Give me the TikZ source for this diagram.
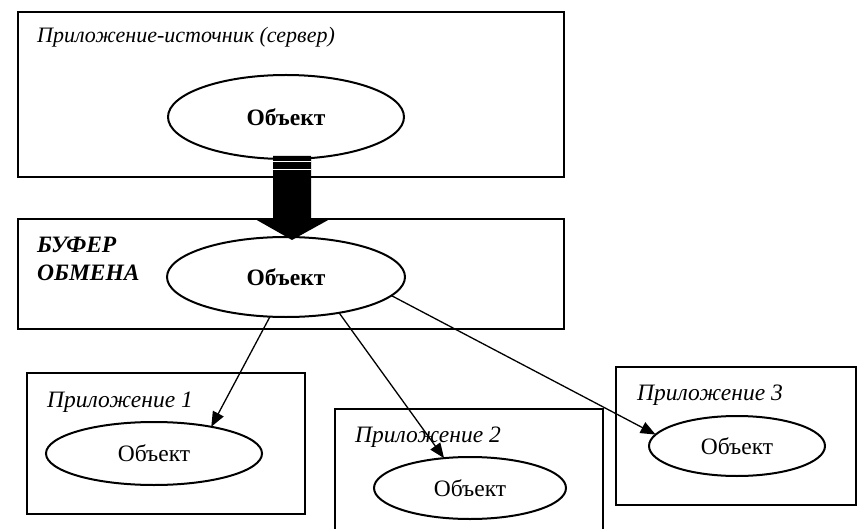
\documentclass[tikz,border=0pt]{standalone}
\usepackage{fontspec}
\setmainfont{Liberation Serif}
\usetikzlibrary{shapes.geometric}
\usetikzlibrary{arrows.meta}

\tikzset{
  objell/.style={draw, ellipse, line width=2pt, inner sep=0pt, outer sep=0pt},
  lbl/.style={anchor=base west, inner sep=0pt},
  sendarr/.style={line width=1.3pt, -{Triangle[length=15pt,width=12pt]}},
}

\begin{document}
\begin{tikzpicture}[x=1pt, y=-1pt, font=\fontsize{23.5}{28}\selectfont]
\useasboundingbox (0,0) rectangle (861,529);

% source application
\draw[line width=2pt] (18,12) rectangle (564,177);
\node[lbl, font=\fontsize{22}{28}\selectfont] (srclbl) at (37,43) {\itshape Приложение-источник (сервер)};
\node[objell, minimum width=236pt, minimum height=84pt] (srcobj) at (286,117) {\bfseries Объект};

% big arrow
\fill (273,156)--(311,156)--(311,219)--(330,219)--(292,240)--(255,219)--(273,219)--cycle;
\draw[white, line width=0.8pt] (273,161)--(311,161) (273,169)--(311,169);

% clipboard
\draw[line width=2pt] (18,219) rectangle (564,329);
\node[lbl] (buflbl1) at (37,252) {\bfseries\itshape БУФЕР};
\node[lbl] (buflbl2) at (37,280) {\bfseries\itshape ОБМЕНА};
\node[objell, minimum width=238pt, minimum height=80pt] (bufobj) at (286,277) {\bfseries Объект};

% applications
\draw[line width=2pt] (27,373) rectangle (305,514);
\node[lbl] (app1lbl) at (47,407) {\itshape Приложение 1};
\node[objell, minimum width=216pt, minimum height=63pt] (app1obj) at (154,453.5) {Объект};

\draw[line width=2pt] (335,531) |- (603,409) -- (603,531);
\node[lbl] (app2lbl) at (355,442) {\itshape Приложение 2};
\node[objell, minimum width=192pt, minimum height=62pt] (app2obj) at (470,488) {Объект};

\draw[line width=2pt] (616,367) rectangle (856,505);
\node[lbl] (app3lbl) at (637,400) {\itshape Приложение 3};
\node[objell, minimum width=176pt, minimum height=60pt] (app3obj) at (737,446) {Объект};

% arrows
\draw[sendarr] (bufobj.-112) -- (app1obj.25);
\draw[sendarr] (bufobj.-34) -- (app2obj.131);
\draw[sendarr] (bufobj.-10) -- (app3obj.172);

\end{tikzpicture}
\end{document}
